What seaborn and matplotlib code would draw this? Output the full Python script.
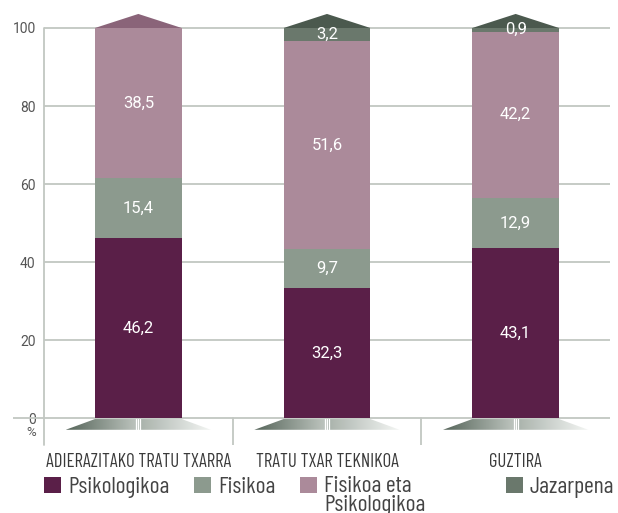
import numpy as np
import pandas as pd
import matplotlib
matplotlib.use('Agg')
import matplotlib.pyplot as plt
import seaborn as sns
from matplotlib.patches import Polygon, Rectangle
from matplotlib.colors import LinearSegmentedColormap

# Data (percentages)
categories = ['ADIERAZITAKO TRATU TXARRA', 'TRATU TXAR TEKNIKOA', 'GUZTIRA']
series = ['Psikologikoa', 'Fisikoa', 'Fisikoa eta\nPsikologikoa', 'Jazarpena']
psikologikoa = [46.2, 32.3, 43.1]
fisikoa = [15.4, 9.7, 12.9]
fisikoa_psikologikoa = [38.5, 51.6, 42.2]
jazarpena = [0.0, 3.2, 0.9]
yticks = [0, 20, 40, 60, 80, 100]

colors = ['#5a1f48', '#8c9a8e', '#ab8a9a', '#6a786c']
cap_colors = ['#8a6479', '#4b594e', '#4b594e']
narrow = ['Barlow Condensed', 'Roboto Condensed', 'Archivo Narrow', 'Roboto', 'DejaVu Sans']


def fmt(v):
    return f'{v:.1f}'.replace('.', ',')


def main():
    sns.set_style('white')
    plt.rcParams['font.family'] = ['Roboto', 'DejaVu Sans']

    values = np.array([psikologikoa, fisikoa, fisikoa_psikologikoa, jazarpena])
    # bars in the original are drawn scaled to a full 100
    shares = values / values.sum(axis=0) * 100
    cum = shares.cumsum(axis=0)

    fig = plt.figure(figsize=(6.18, 5.13), dpi=100)
    ax = fig.add_axes([44 / 618, 68 / 513, 566 / 618, 433 / 513])
    ymin, ymax = -6.9, 104.1
    grid_c = '#c2c7c2'

    # grid and frame lines
    ax.hlines(yticks[1:], -0.5, 2.5, color=grid_c, lw=1.3, zorder=1)
    ax.hlines(0, -0.665, 2.5, color=grid_c, lw=1.3, zorder=1, clip_on=False)
    ax.plot([-0.5, -0.5], [ymin, 100], color=grid_c, lw=1.3, clip_on=False)
    for xs in [0.5, 1.5]:
        ax.plot([xs, xs], [ymin, 0], color=grid_c, lw=1.3)

    # stacked bars: draw cumulative totals from the top layer down
    for k in range(3, -1, -1):
        df = pd.DataFrame({'cat': categories, 'val': cum[k]})
        sns.barplot(data=df, x='cat', y='val', color=colors[k], width=0.46,
                    saturation=1, errorbar=None, linewidth=0, edgecolor='none',
                    ax=ax, zorder=2)

    # value labels
    for k in range(4):
        for i in range(3):
            if values[k, i] > 0:
                ax.text(i, cum[k, i] - shares[k, i] / 2, fmt(values[k, i]),
                        ha='center', va='center', color='white', fontsize=12, zorder=5)

    # roof triangles and gradient feet
    foot_cmap = LinearSegmentedColormap.from_list(
        'foot', [(0, '#56655a'), (0.5, '#c0c7c1'), (0.505, '#a9b2ab'), (1, '#f4f6f4')])
    grad = np.linspace(0, 1, 256).reshape(1, -1)
    for i in range(3):
        top = cum[3, i]
        ax.add_patch(Polygon([(i - 0.23, top), (i + 0.23, top), (i, top + 3.6)],
                             closed=True, facecolor=cap_colors[i], edgecolor='none',
                             zorder=2, clip_on=False))
        foot = Polygon([(i - 0.23, -0.25), (i + 0.23, -0.25), (i + 0.385, -3.0), (i - 0.385, -3.0)],
                       closed=True, transform=ax.transData, facecolor='none')
        im = ax.imshow(grad, extent=(i - 0.385, i + 0.385, -3.0, -0.25), aspect='auto',
                       cmap=foot_cmap, interpolation='bilinear', zorder=2)
        im.set_clip_path(foot)
        for off in [-0.011, 0.0, 0.011]:
            ax.plot([i + off, i + off], [-3.0, -0.25], color='white', lw=0.9, zorder=3)

    ax.set_xlim(-0.5, 2.5)
    ax.set_ylim(ymin, ymax)
    for s in ax.spines.values():
        s.set_visible(False)

    ax.set_yticks(yticks)
    ax.set_yticklabels([str(t) for t in yticks])
    ax.tick_params(axis='y', length=0, pad=6, labelsize=10, labelcolor='#555555')
    ax.set_xticks([0, 1, 2])
    ax.set_xticklabels(categories, family=narrow, fontsize=13.5, color='#3a3a3a')
    ax.tick_params(axis='x', length=0, pad=6)
    ax.set_xlabel('')
    ax.set_ylabel('')
    ax.text(-0.014, -3.6, '%', transform=ax.get_yaxis_transform(), ha='right', va='center',
            fontsize=9.5, color='#555555')

    # legend drawn by hand to keep the original spacing
    leg_x = [44, 194, 300, 506]
    for k in range(4):
        fig.add_artist(Rectangle((leg_x[k] / 618, 1 - 493 / 513), 17 / 618, 16 / 513,
                                 transform=fig.transFigure, facecolor=colors[k], edgecolor='none'))
        n_lines = series[k].count('\n') + 1
        base = 493 + 18 * (n_lines - 1)
        fig.text((leg_x[k] + 24) / 618, 1 - base / 513, series[k], va='baseline', ha='left',
                 family=narrow, fontsize=17, color='#444444', linespacing=0.85)

    fig.savefig('out.png', dpi=100)


if __name__ == "__main__":
    main()
